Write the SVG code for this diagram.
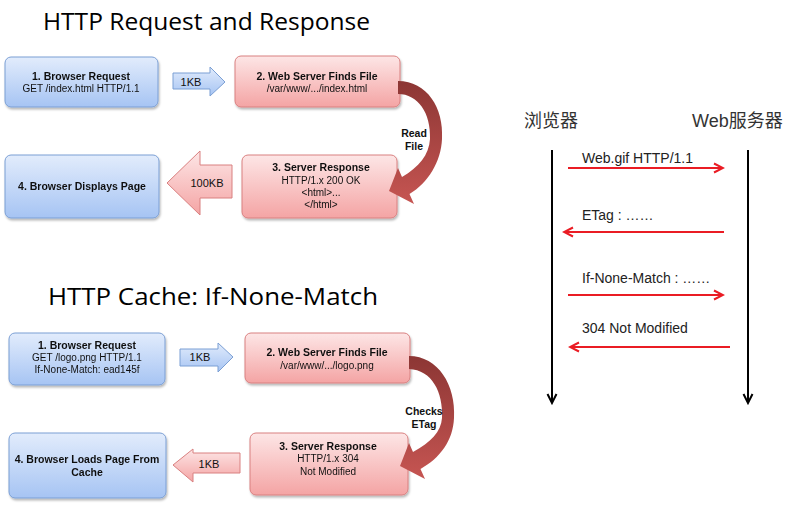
<svg xmlns="http://www.w3.org/2000/svg" width="785" height="512" viewBox="0 0 785 512">
<defs>
<linearGradient id="gBlue" x1="0" y1="0" x2="0" y2="1"><stop offset="0" stop-color="#e2ecfc"/><stop offset="1" stop-color="#a6c4f3"/></linearGradient>
<linearGradient id="gPink" x1="0" y1="0" x2="0" y2="1"><stop offset="0" stop-color="#fde6e6"/><stop offset="1" stop-color="#f4a4a4"/></linearGradient>
<linearGradient id="gCurve" x1="0" y1="0" x2="0" y2="1"><stop offset="0" stop-color="#8c3634"/><stop offset="1" stop-color="#c65552"/></linearGradient>
<filter id="sh" x="-10%" y="-10%" width="125%" height="135%"><feDropShadow dx="1" dy="2" stdDeviation="1.2" flood-color="#000" flood-opacity="0.28"/></filter>
<marker id="mRed" viewBox="0 0 12 12" refX="10" refY="6" markerWidth="12" markerHeight="12" markerUnits="userSpaceOnUse" orient="auto"><path d="M1,1.5 L10,6 L1,10.5" fill="none" stroke="#ea1c24" stroke-width="2"/></marker>
<marker id="mBlk" viewBox="0 0 12 12" refX="6" refY="10" markerWidth="12" markerHeight="12" markerUnits="userSpaceOnUse" orient="0"><path d="M1.5,1 L6,10 L10.5,1" fill="none" stroke="#000" stroke-width="2"/></marker>
</defs>
<style>
.blue{fill:url(#gBlue);stroke:#7b9fd4;stroke-width:1}
.pink{fill:url(#gPink);stroke:#d98080;stroke-width:1}
.curve{fill:url(#gCurve);stroke:none}
.t{font-family:"Liberation Sans",Arial,sans-serif;font-size:10px;fill:#111;text-anchor:middle}
.b{font-weight:bold;font-size:10.5px}
.title{font-family:"Open Sans","Liberation Sans",sans-serif;font-size:24.5px;fill:#000}
.seq{font-family:"Liberation Sans",Arial,sans-serif;font-size:14px;fill:#222}
.zh{font-family:"Liberation Sans","Noto Sans CJK SC",sans-serif;font-size:18px;fill:#333}
.red{stroke:#ea1c24;stroke-width:2;fill:none}
.life{stroke:#000;stroke-width:2;fill:none}
</style>
<rect width="785" height="512" fill="#fff"/>

<text class="title" x="43" y="30" textLength="327" lengthAdjust="spacingAndGlyphs">HTTP Request and Response</text>
<text class="title" x="48" y="305" textLength="330" lengthAdjust="spacingAndGlyphs">HTTP Cache: If-None-Match</text>

<g id="req1" filter="url(#sh)"><rect class="blue" x="5" y="57" width="153" height="50" rx="6"/>
<text class="t b" x="81" y="80">1. Browser Request</text><text class="t" x="81" y="92">GET /index.html HTTP/1.1</text></g>

<g id="srv1" filter="url(#sh)"><rect class="pink" x="235" y="56" width="165" height="51" rx="6"/>
<text class="t b" x="317" y="80">2. Web Server Finds File</text><text class="t" x="317" y="92">/var/www/.../index.html</text></g>

<g id="resp1" filter="url(#sh)"><rect class="pink" x="242" y="155" width="155" height="63" rx="6"/>
<text class="t b" x="321" y="171">3. Server Response</text><text class="t" x="321" y="184">HTTP/1.x 200 OK</text><text class="t" x="321" y="196">&lt;html&gt;...</text><text class="t" x="321" y="208">&lt;/html&gt;</text></g>

<g id="disp1" filter="url(#sh)"><rect class="blue" x="5" y="155" width="154" height="63" rx="6"/>
<text class="t b" x="82" y="190">4. Browser Displays Page</text></g>

<g id="req2" filter="url(#sh)"><rect class="blue" x="9" y="333" width="156" height="52" rx="6"/>
<text class="t b" x="87" y="349">1. Browser Request</text><text class="t" x="87" y="361">GET /logo.png HTTP/1.1</text><text class="t" x="87" y="373">If-None-Match: ead145f</text></g>

<g id="srv2" filter="url(#sh)"><rect class="pink" x="245" y="333" width="165" height="50" rx="6"/>
<text class="t b" x="327" y="356">2. Web Server Finds File</text><text class="t" x="327" y="369">/var/www/.../logo.png</text></g>

<g id="resp2" filter="url(#sh)"><rect class="pink" x="250" y="433" width="158" height="62" rx="6"/>
<text class="t b" x="328" y="450">3. Server Response</text><text class="t" x="328" y="462">HTTP/1.x 304</text><text class="t" x="328" y="475">Not Modified</text></g>

<g id="load2" filter="url(#sh)"><rect class="blue" x="9" y="433" width="157" height="65" rx="6"/>
<text class="t b" x="87" y="463">4. Browser Loads Page From</text><text class="t b" x="87" y="476">Cache</text></g>

<g id="browser"><text class="zh" x="524" y="127">浏览器</text></g>
<g id="webserver"><text class="zh" x="692" y="127">Web服务器</text></g>

<g id="connectors">
<path class="blue" d="M173,73 H210 V67 L225,82 L210,96 V89 H173 Z"/>
<text class="t" x="191" y="86" style="font-size:11px">1KB</text>
<path class="pink" d="M232,165 H200 V151 L167,183 L200,215 V198 H232 Z"/>
<text class="t" x="207" y="187" style="font-size:11px">100KB</text>
<path class="curve" d="M398,81 C427,81 444,108 442,139 C441,162 428,183 409.5,194 L414,204 L389,191 L398,168 L402,177 C419,167 429,155 430,139 C431,113 418,94 398,94 Z"/>
<text class="t b" x="414" y="137">Read</text><text class="t b" x="414" y="150">File</text>

<path class="blue" d="M180,349 H218 V343 L233,357 L218,372 V366 H180 Z"/>
<text class="t" x="200" y="361" style="font-size:11px">1KB</text>
<path class="pink" d="M240,453 H193 V449 L173,465 L193,482 V473 H240 Z"/>
<text class="t" x="209" y="468" style="font-size:11px">1KB</text>
<path class="curve" d="M409,356 C438,356 456,385 454,418 C453,441 440,458 420.5,469 L425,479 L400,466 L409,443 L413,452 C431,442 441,432 442,418 C443,392 432,370 409,369 Z"/>
<text class="t b" x="424" y="415">Checks</text><text class="t b" x="424" y="428">ETag</text>

<path class="life" d="M552,150 V403" marker-end="url(#mBlk)"/>
<path class="life" d="M748,150 V403" marker-end="url(#mBlk)"/>
<path class="red" d="M568,168 H723" marker-end="url(#mRed)"/>
<text class="seq" x="582" y="163">Web.gif HTTP/1.1</text>
<path class="red" d="M724,232 H564" marker-end="url(#mRed)"/>
<text class="seq" x="582" y="220">ETag : ……</text>
<path class="red" d="M568,295 H723" marker-end="url(#mRed)"/>
<text class="seq" x="582" y="283">If-None-Match : ……</text>
<path class="red" d="M730,347 H570" marker-end="url(#mRed)"/>
<text class="seq" x="582" y="333">304 Not Modified</text>
</g>
</svg>
